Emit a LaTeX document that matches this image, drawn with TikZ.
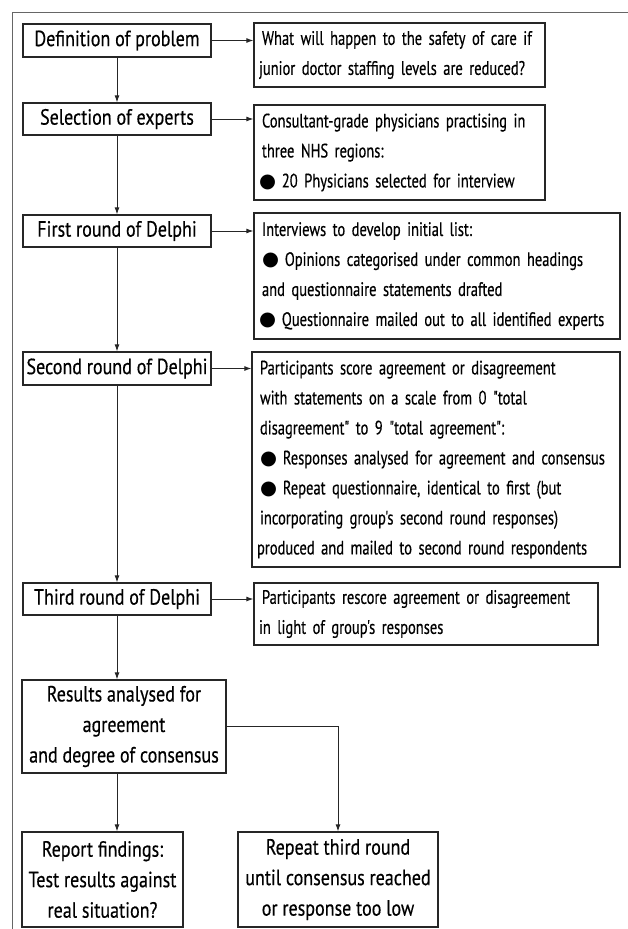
\documentclass[tikz,border=0pt]{standalone}
\usepackage{fontspec}
\setmainfont{PT Sans}[FakeStretch=0.82, FakeBold=0.4]
\newfontfamily\detailfont{PT Sans}[FakeStretch=0.745, FakeBold=0.4]
\newfontfamily\symfont{DejaVu Sans}
\usetikzlibrary{arrows.meta}
\hyphenpenalty=10000
\exhyphenpenalty=10000

\newcommand{\blt}{{\symfont ●}\hspace{0.3em}}
% indent the lines of a detail box a little from its left edge
\newcommand{\inset}{\leftskip=3pt\relax}

\tikzset{
  box/.style={draw=black!85, line width=1.3pt, inner sep=0pt, text=black},
  stage/.style={box, font=\fontsize{22}{30.5}\selectfont, align=center},
  detail/.style={box, font=\detailfont\fontsize{19.5}{30}\selectfont, align=left},
  flow/.style={draw=black!85, line width=0.9pt, -{Latex[length=7pt,width=5pt]}},
  frame/.style={draw=black!60, line width=1pt},
}

\begin{document}
\begin{tikzpicture}[x=1pt,y=-1pt]
\useasboundingbox (0,0) rectangle (628,929);

% outer frame (top and left edges only)
\draw[frame] (628,12) -| (12,929);

% left column: stages of the study
\node[stage, minimum width=188pt, minimum height=33pt] (d1) at (117,40.5) {Definition of problem};
\node[stage, minimum width=188pt, minimum height=32pt] (d2) at (117,119) {Selection of experts};
\node[stage, minimum width=188pt, minimum height=32pt] (d3) at (117,231) {First round of Delphi};
\node[stage, minimum width=188pt, minimum height=33pt] (d4) at (117,368.5) {Second round of Delphi};
\node[stage, minimum width=188pt, minimum height=32pt] (d5) at (117,599) {Third round of Delphi};
\node[stage, minimum width=204pt, minimum height=93pt] (d6) at (124,726.5) {Results analysed for\\agreement\\and degree of consensus};
\node[stage, minimum width=161pt, minimum height=95pt] (d7) at (102.5,879.5) {Report findings:\\Test results against\\real situation?};
\node[stage, minimum width=200pt, minimum height=95pt] (d8) at (338,879.5) {Repeat third round\\until consensus reached\\or response too low};

% right column: details of each stage
\node[detail, minimum width=291pt, minimum height=64pt, text width=281pt] (r1) at (399.5,55)
  {\inset What will happen to the safety of care if\\junior doctor staffing levels are reduced?};
\node[detail, minimum width=291pt, minimum height=95pt, text width=281pt] (r2) at (399.5,152.5)
  {\inset Consultant-grade physicians practising in\\three NHS regions:\\\blt 20 Physicians selected for interview};
\node[detail, minimum width=366pt, minimum height=126pt, text width=356pt] (r3) at (437,276)
  {\inset Interviews to develop initial list:\\\blt Opinions categorised under common headings\\and questionnaire statements drafted\\\blt Questionnaire mailed out to all identified experts};
\node[detail, minimum width=368pt, minimum height=215pt, text width=358pt] (r4) at (436,459.5)
  {\inset Participants score agreement or disagreement\\with statements on a scale from 0 "total\\disagreement" to 9 "total agreement":\\\blt Responses analysed for agreement and consensus\\\blt Repeat questionnaire, identical to first (but\\incorporating group's second round responses)\\produced and mailed to second round respondents};
\node[detail, minimum width=344pt, minimum height=62pt, text width=334pt] (r5) at (426,614)
  {\inset Participants rescore agreement or disagreement\\in light of group's responses};

% stage -> detail arrows
\foreach \i in {1,...,5}
  \draw[flow] (d\i.east) -- (d\i.east -| r\i.west);

% main sequence
\draw[flow] (d1.south) -- (d2.north);
\draw[flow] (d2.south) -- (d3.north);
\draw[flow] (d3.south) -- (d4.north);
\draw[flow] (d4.south) -- (d5.north);
\draw[flow] (d5.south) -- (d5.south |- d6.north);
\draw[flow] (d5.south |- d6.south) -- (d5.south |- d7.north);
\draw[flow] (d6.east) -| (d8.north);
\end{tikzpicture}
\end{document}
